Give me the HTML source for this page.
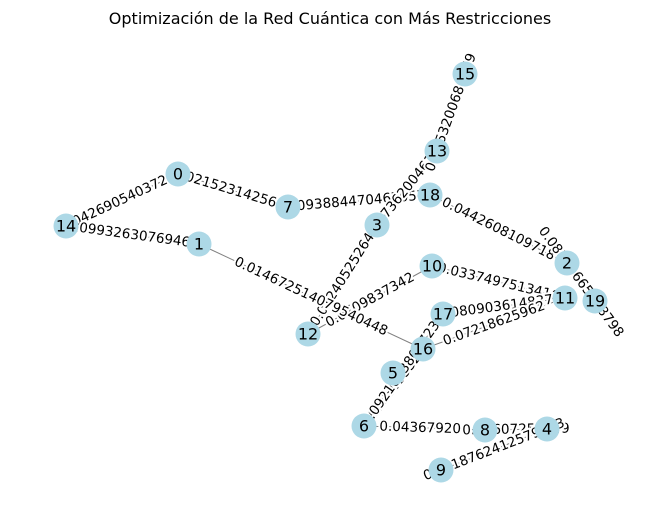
<!DOCTYPE html>
<html><head><meta charset="utf-8"><style>
html,body{margin:0;padding:0;background:#fff}
svg{display:block}
text{font-family:"DejaVu Sans","Liberation Sans",sans-serif}
</style></head><body>
<svg id="chart" width="660" height="522">
<text x="330" y="24" text-anchor="middle" font-size="16" fill="#000">Optimización de la Red Cuántica con Más Restricciones</text>
<g id="edges"></g><g id="elabels"></g><g id="nodes"></g>
</svg>
<script>
const nodeIds=[0,1,2,3,4,5,6,7,8,9,10,11,12,13,14,15,16,17,18,19];
const nodeX=[178,199,567,377,547,393,364,288,485,441,432,565,308,437,66,465,423,443,430,595];
const nodeY=[174,244,263,225,429,373,426,207,430,470,266,298,334,151,226,74,349,314,195,301];
const edgeFrom=[0,14,0,7,3,13,18,2,10,17,16,12,12,1,6,6,6,8,9,5];
const edgeTo=[14,1,7,18,13,15,2,19,11,11,11,10,3,16,16,17,8,4,4,16];
const edgeWeights=["0.04269054037263","0.09932630769461","0.0215231425689","0.0938844704670571","0.073620046153","0.0353200680779","0.0442608109718","0.08383665168798","0.0337497513416","0.08090361483718","0.07218625962","0.0709837342","0.01240525264","0.014672514079540448","0.0333095328","0.09216738067235","0.043679206","0.06607255949","0.0518762412579313",""];
const NS="http://www.w3.org/2000/svg";
const gE=document.getElementById('edges'),gL=document.getElementById('elabels'),gN=document.getElementById('nodes');
function px(i){return nodeX[nodeIds.indexOf(i)];}
function py(i){return nodeY[nodeIds.indexOf(i)];}
edgeFrom.forEach((a,k)=>{
  const b=edgeTo[k];
  const x1=px(a),y1=py(a),x2=px(b),y2=py(b);
  const l=document.createElementNS(NS,'line');
  l.setAttribute('x1',x1);l.setAttribute('y1',y1);l.setAttribute('x2',x2);l.setAttribute('y2',y2);
  l.setAttribute('stroke','#808080');l.setAttribute('stroke-width','1');
  
  
  gE.appendChild(l);
  if(!edgeWeights[k])return;
  let ang=Math.atan2(y2-y1,x2-x1)*180/Math.PI;
  if(ang>90)ang-=180; if(ang<-90)ang+=180;
  const cx=(x1+x2)/2,cy=(y1+y2)/2;
  const t=document.createElementNS(NS,'text');
  t.setAttribute('x',cx);t.setAttribute('y',cy);
  t.setAttribute('text-anchor','middle');t.setAttribute('dominant-baseline','central');
  t.setAttribute('font-size','13.5');
  t.setAttribute('fill','#000');t.setAttribute('stroke','#fff');t.setAttribute('stroke-width','4');
  t.setAttribute('paint-order','stroke');
  t.setAttribute('transform','rotate('+ang+' '+cx+' '+cy+')');
  t.textContent=edgeWeights[k];
  
  
  gL.appendChild(t);
});
nodeIds.forEach((id,i)=>{
  const c=document.createElementNS(NS,'circle');
  c.setAttribute('cx',nodeX[i]);c.setAttribute('cy',nodeY[i]);c.setAttribute('r','12.5');
  c.setAttribute('fill','#add8e6');
  
  
  gN.appendChild(c);
  const t=document.createElementNS(NS,'text');
  t.setAttribute('x',nodeX[i]);t.setAttribute('y',nodeY[i]);
  t.setAttribute('text-anchor','middle');t.setAttribute('dominant-baseline','central');
  t.setAttribute('font-size','16');t.setAttribute('fill','#000');
  t.textContent=id;
  
  
  gN.appendChild(t);
});
</script>
</body></html>
